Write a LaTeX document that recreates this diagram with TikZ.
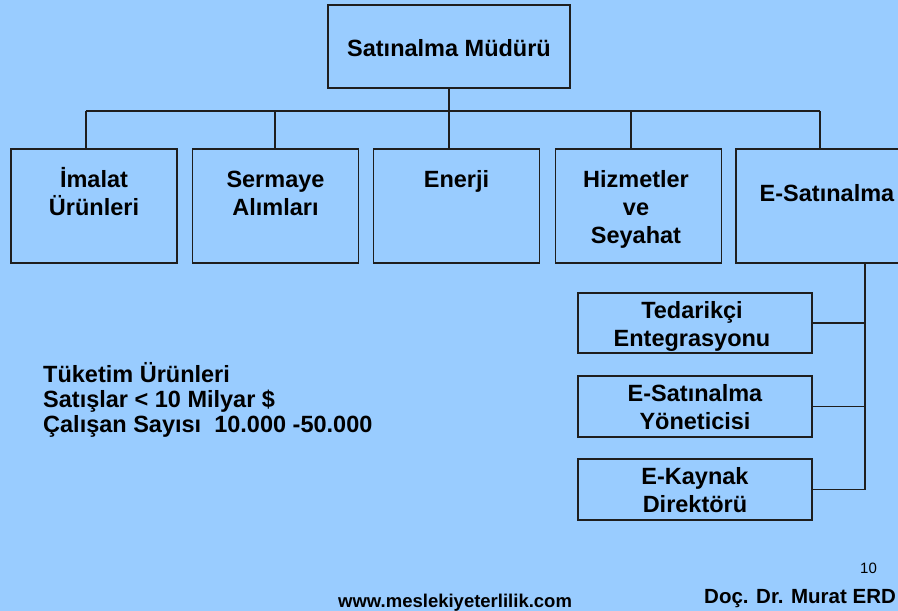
\documentclass[tikz,border=0pt]{standalone}
\usepackage{fontspec}
\setmainfont{Liberation Sans}
\definecolor{bg}{HTML}{99CCFF}
\definecolor{ln}{HTML}{1E1E1E}
\begin{document}
\begin{tikzpicture}[x=1pt,y=-1pt,
  box/.style={draw=ln, line width=1.1pt, fill=bg, rectangle, inner sep=0pt},
  lbl/.style={font=\bfseries\fontsize{23.5}{28}\selectfont, align=center, anchor=base, inner sep=0pt},
  conn/.style={draw=ln, line width=1.1pt}]
\fill[bg] (0,0) rectangle (898,611);
\useasboundingbox (0,0) rectangle (898,611);
\clip (0,0) rectangle (898,611);
% top
\node[box, minimum width=242pt, minimum height=83pt] (top) at (449,46.5) {};
\node[lbl] (toplbl) at (449,56) {Satınalma Müdürü};
% second level
\node[box, minimum width=166pt, minimum height=114pt] (b1) at (94,206) {};
\node[box, minimum width=166pt, minimum height=114pt] (b2) at (275.5,206) {};
\node[box, minimum width=166pt, minimum height=114pt] (b3) at (456.5,206) {};
\node[box, minimum width=166pt, minimum height=114pt] (b4) at (638.5,206) {};
\node[box, minimum width=166pt, minimum height=114pt] (b5) at (819,206) {};
\node[lbl] (l1) at (94,215) {İmalat\\Ürünleri};
\node[lbl] (l2) at (275.5,215) {Sermaye\\Alımları};
\node[lbl] (l3) at (456.5,187) {Enerji};
\node[lbl] (l4) at (636,243) {Hizmetler\\ve\\Seyahat};
\node[lbl] (l5) at (827,201) {E-Satınalma};
% third level
\node[box, minimum width=234pt, minimum height=60pt] (s1) at (695,323) {};
\node[box, minimum width=234pt, minimum height=61pt] (s2) at (695,406.5) {};
\node[box, minimum width=234pt, minimum height=61pt] (s3) at (695,489.5) {};
\node[lbl] (t1) at (692,346.5) {Tedarikçi\\Entegrasyonu};
\node[lbl] (t2) at (695,429.5) {E-Satınalma\\Yöneticisi};
\node[lbl] (t3) at (695,512.5) {E-Kaynak\\Direktörü};
% connectors
\coordinate (j1) at (86,111);
\coordinate (j2) at (275,111);
\coordinate (j4) at (631,111);
\coordinate (j5) at (820,111);
\draw[conn] (top.south) -- (top.south |- b3.north);
\draw[conn] (j1) -- (j5);
\draw[conn] (j1) -- (j1 |- b1.north);
\draw[conn] (j2) -- (j2 |- b2.north);
\draw[conn] (j4) -- (j4 |- b4.north);
\draw[conn] (j5) -- (j5 |- b5.north);
\coordinate (r) at (865,263);
\draw[conn] (r |- b5.south) -- (r |- s3.east) -- (s3.east);
\draw[conn] (s1.east) -- (r |- s1.east);
\draw[conn] (s2.east) -- (r |- s2.east);
% left text
\node[font=\bfseries\fontsize{23.5}{25}\selectfont, align=left, anchor=base west, inner sep=0pt] (info) at (43,432)
  {Tüketim Ürünleri\\Satışlar < 10 Milyar \$\\Çalışan Sayısı\ \ 10.000 -50.000};
% footer
\node[font=\bfseries\fontsize{18.5}{22}\selectfont, anchor=base west, inner sep=0pt] (web) at (338,607) {www.meslekiyeterlilik.com};
\node[font=\bfseries\fontsize{20.5}{25}\selectfont, anchor=base west, inner sep=0pt] (auth) at (704,603) {Doç. Dr. Murat ERD};
\node[font=\fontsize{15}{18}\selectfont, anchor=base west, inner sep=0pt] (pg) at (860,573) {10};
\end{tikzpicture}
\end{document}
